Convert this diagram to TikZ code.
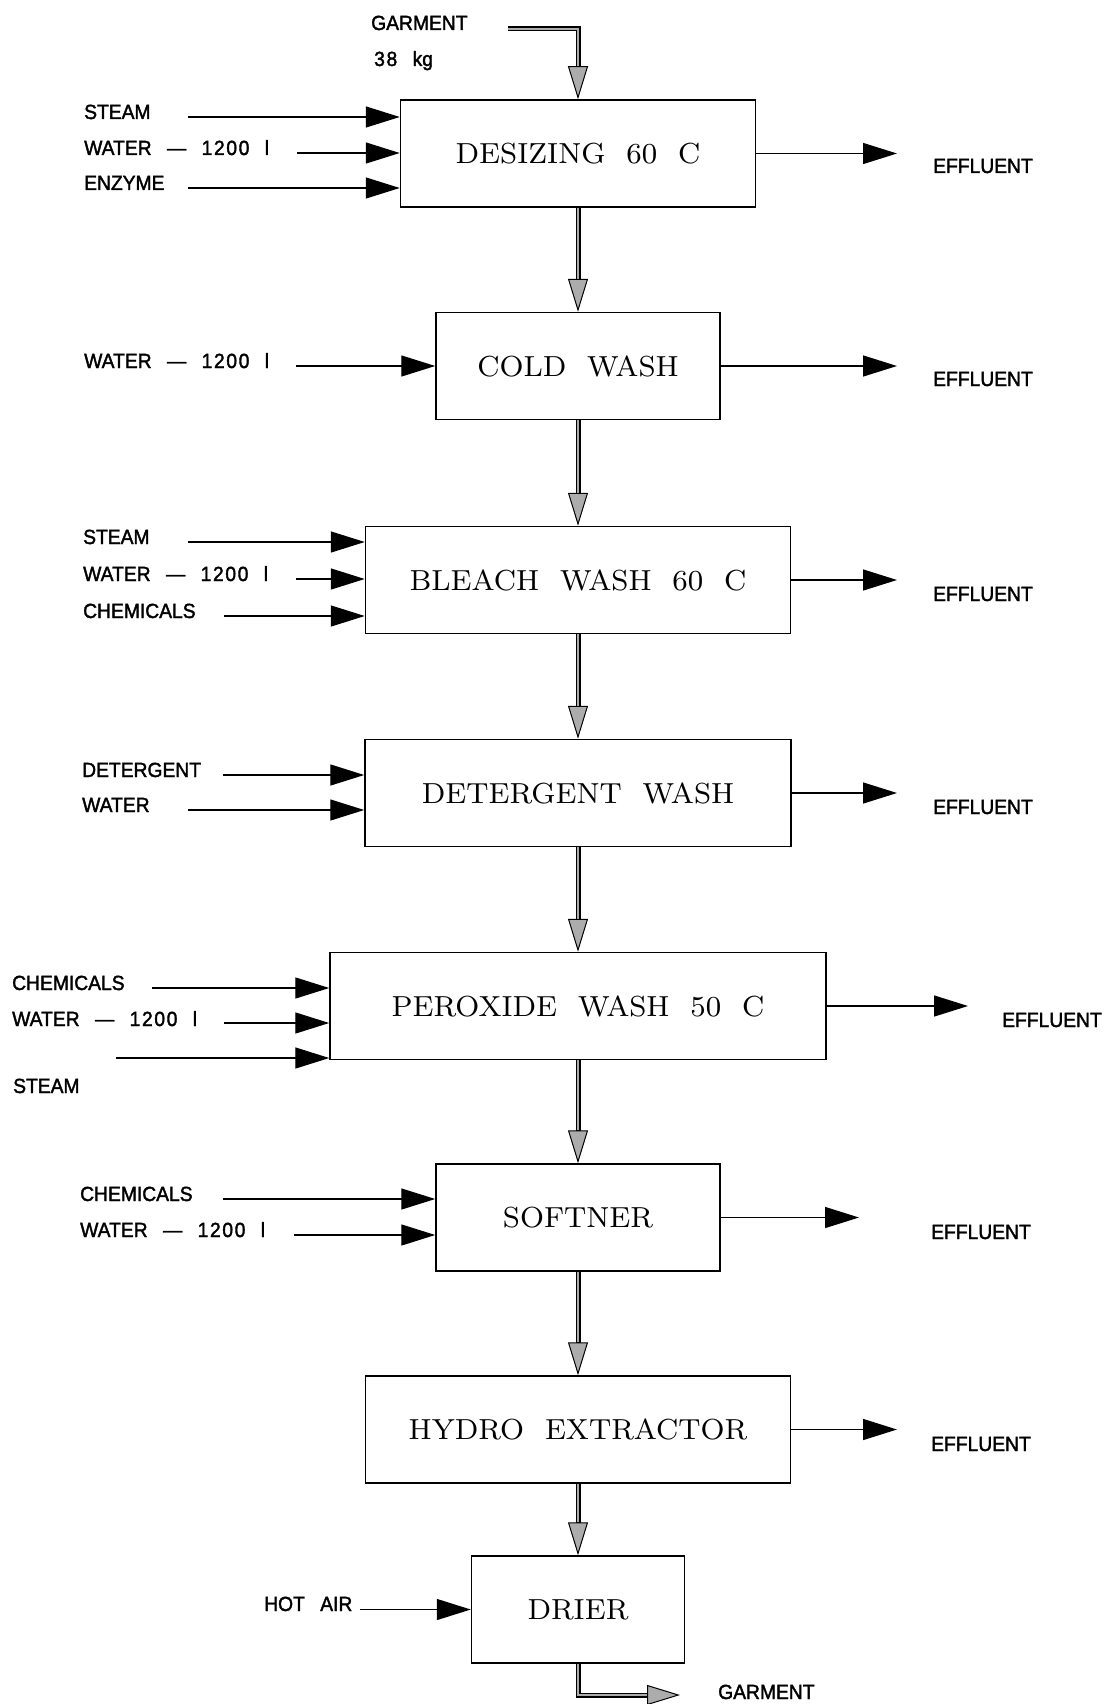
\documentclass[tikz,border=0pt]{standalone}
\usepackage{fontspec}
\usetikzlibrary{arrows.meta}
\newfontfamily\lblfont{Liberation Sans}[FakeStretch=0.94, FakeBold=1.8]
\newfontfamily\stagefamily{lmroman8-regular.otf}
\newcommand\stagefont{\stagefamily\fontsize{29pt}{34pt}\selectfont\spaceskip=0.72em\relax}
\newcommand\streamfont{\lblfont\fontsize{20.5pt}{24pt}\selectfont\spaceskip=0.75em\relax}
% slightly wider digit spacing in stream labels
\newcommand\num[1]{{\addfontfeature{LetterSpace=8}#1}}
\begin{document}
\begin{tikzpicture}[x=1pt,y=-1pt,
  proc/.style={draw, line width=1.5pt, minimum height=107pt, inner sep=0pt,
    font=\stagefont},
  lbl/.style={anchor=base west, inner sep=0pt, font=\streamfont},
  feed/.style={line width=1.4pt, -{Triangle[length=34pt,width=21pt]}},
  goods/.style={line width=5pt,
    -{Triangle[length=33pt,width=20pt,line width=1pt,fill=gray!65]},
    postaction={draw=gray!65, line width=2.4pt, -, shorten >=33pt}},
]
\useasboundingbox (0,0) rectangle (1110,1704);

% process stages
\node[proc, minimum width=355pt] (b1) at (578,153.5)  {DESIZING 60 C};
\node[proc, minimum width=284pt] (b2) at (578,366)    {COLD WASH};
\node[proc, minimum width=425pt] (b3) at (578,580)    {BLEACH WASH 60 C};
\node[proc, minimum width=426pt] (b4) at (578,793)    {DETERGENT WASH};
\node[proc, minimum width=496pt] (b5) at (578,1006)   {PEROXIDE WASH 50 C};
\node[proc, minimum width=284pt] (b6) at (578,1217.5) {SOFTNER};
\node[proc, minimum width=425pt] (b7) at (578,1429.5) {HYDRO EXTRACTOR};
\node[proc, minimum width=213pt] (b8) at (578,1609.5) {DRIER};

% garment path through the stages
\node[lbl] (gin-l) at (371,30) {GARMENT};
\node[lbl] (gin-m) at (374,66) {\num{38} kg};
\coordinate (gin) at (508,29);
\draw[goods] (gin) -| (b1.north);
\draw[goods] (b1) -- (b2);
\draw[goods] (b2) -- (b3);
\draw[goods] (b3) -- (b4);
\draw[goods] (b4) -- (b5);
\draw[goods] (b5) -- (b6);
\draw[goods] (b6) -- (b7);
\draw[goods] (b7) -- (b8);
\coordinate (gout) at (680,1695);
\draw[goods] (b8.south) |- (gout);
\node[lbl] (gout-l) at (718,1699) {GARMENT};

% desizing feeds
\node[lbl] (l11) at (84,119) {STEAM};
\node[lbl] (l12) at (84,155) {WATER — \num{1200} l};
\node[lbl] (l13) at (84,190) {ENZYME};
\coordinate (s11) at (188,117);
\coordinate (s12) at (297,153);
\coordinate (s13) at (188,188);
\draw[feed] (s11) -- (s11 -| b1.west);
\draw[feed] (s12) -- (s12 -| b1.west);
\draw[feed] (s13) -- (s13 -| b1.west);

% cold wash feed
\node[lbl] (l21) at (84,368) {WATER — \num{1200} l};
\coordinate (s21) at (296,366);
\draw[feed] (s21) -- (s21 -| b2.west);

% bleach wash feeds
\node[lbl] (l31) at (83,544) {STEAM};
\node[lbl] (l32) at (83,581) {WATER — \num{1200} l};
\node[lbl] (l33) at (83,618) {CHEMICALS};
\coordinate (s31) at (188,542);
\coordinate (s32) at (296,579);
\coordinate (s33) at (224,616);
\draw[feed] (s31) -- (s31 -| b3.west);
\draw[feed] (s32) -- (s32 -| b3.west);
\draw[feed] (s33) -- (s33 -| b3.west);

% detergent wash feeds
\node[lbl] (l41) at (82,777) {DETERGENT};
\node[lbl] (l42) at (82,812) {WATER};
\coordinate (s41) at (223,775);
\coordinate (s42) at (188,810);
\draw[feed] (s41) -- (s41 -| b4.west);
\draw[feed] (s42) -- (s42 -| b4.west);

% peroxide wash feeds
\node[lbl] (l51) at (12,990) {CHEMICALS};
\node[lbl] (l52) at (12,1026) {WATER — \num{1200} l};
\node[lbl] (l53) at (13,1093) {STEAM};
\coordinate (s51) at (152,988);
\coordinate (s52) at (224,1023);
\coordinate (s53) at (116,1058);
\draw[feed] (s51) -- (s51 -| b5.west);
\draw[feed] (s52) -- (s52 -| b5.west);
\draw[feed] (s53) -- (s53 -| b5.west);

% softener feeds
\node[lbl] (l61) at (80,1201) {CHEMICALS};
\node[lbl] (l62) at (80,1237) {WATER — \num{1200} l};
\coordinate (s61) at (223,1199);
\coordinate (s62) at (294,1235);
\draw[feed] (s61) -- (s61 -| b6.west);
\draw[feed] (s62) -- (s62 -| b6.west);

% drier feed
\node[lbl] (l81) at (264,1611) {HOT AIR};
\coordinate (s81) at (360,1609.5);
\draw[feed] (s81) -- (s81 -| b8.west);

% effluent outlets
\coordinate (e1) at (897,153.5);
\coordinate (e2) at (897,366);
\coordinate (e3) at (897,580);
\coordinate (e4) at (897,793);
\coordinate (e5) at (968,1006);
\coordinate (e6) at (859,1217.5);
\coordinate (e7) at (897,1429.5);
\draw[feed] (b1.east) -- (e1);
\draw[feed] (b2.east) -- (e2);
\draw[feed] (b3.east) -- (e3);
\draw[feed] (b4.east) -- (e4);
\draw[feed] (b5.east) -- (e5);
\draw[feed] (b6.east) -- (e6);
\draw[feed] (b7.east) -- (e7);
\node[lbl] (o1) at (933,173)  {EFFLUENT};
\node[lbl] (o2) at (933,386)  {EFFLUENT};
\node[lbl] (o3) at (933,601)  {EFFLUENT};
\node[lbl] (o4) at (933,814)  {EFFLUENT};
\node[lbl] (o5) at (1002,1027) {EFFLUENT};
\node[lbl] (o6) at (931,1239) {EFFLUENT};
\node[lbl] (o7) at (931,1451) {EFFLUENT};
\end{tikzpicture}
\end{document}
